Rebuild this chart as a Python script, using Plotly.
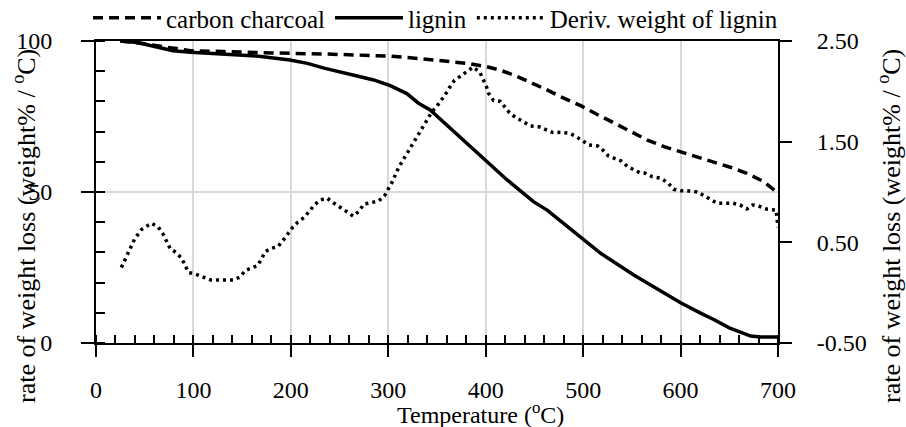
import plotly.graph_objects as go

# ---------------- data ----------------
charcoal_temp = [25, 45, 69, 97, 131, 165, 199, 234, 268, 302, 331, 354, 381, 401, 415, 429, 446, 463,
                 480, 498, 515, 532, 549, 566, 583, 600, 617, 634, 651, 668, 685, 700]
charcoal_loss = [100, 99.3, 98.1, 96.8, 96.5, 96.1, 95.9, 95.7, 95.4, 95.0, 94.2, 93.5, 92.6, 91.5, 90.3,
                 88.7, 86.3, 83.8, 81.1, 78.5, 75.6, 72.7, 69.9, 67.2, 65.0, 63.3, 61.8, 60.0, 58.2, 56.2,
                 53.5, 49.7]

lignin_temp = [25, 40, 49, 62, 79, 97, 131, 165, 199, 217, 234, 251, 268, 285, 302, 319, 331, 343, 360,
               378, 395, 422, 449, 463, 484, 501, 518, 552, 586, 600, 621, 634, 650, 662, 672, 682, 700]
lignin_loss = [100, 99.6, 99.0, 98.1, 96.8, 96.3, 95.7, 95.0, 93.7, 92.6, 91.0, 89.6, 88.4, 87.1, 85.2,
               82.6, 79.4, 77.2, 72.2, 66.7, 61.7, 54.0, 46.8, 44.0, 38.5, 34.1, 29.7, 22.5, 15.9, 13.3,
               9.8, 7.8, 5.0, 3.4, 2.3, 2.0, 2.0]

deriv_temp = [26, 33, 40, 47, 57, 64, 69, 76, 82, 88, 95, 102, 110, 118, 141, 148, 153, 160, 166, 170,
              174, 180, 187, 192, 197, 202, 207, 214, 219, 224, 230, 237, 244, 251, 258, 264, 270, 275,
              282, 290, 296, 300, 304, 311, 319, 328, 336, 340, 345, 349, 354, 358, 363, 368, 374, 381,
              387, 394, 398, 401, 403, 408, 415, 420, 425, 431, 439, 446, 455, 462, 469, 477, 486, 492,
              499, 506, 515, 521, 526, 532, 539, 546, 552, 558, 564, 571, 580, 587, 593, 600, 609, 617,
              624, 630, 637, 646, 654, 661, 668, 674, 680, 689, 698, 700]
deriv_rate = [0.25, 0.40, 0.54, 0.63, 0.69, 0.65, 0.58, 0.44, 0.40, 0.34, 0.20, 0.185, 0.16, 0.126, 0.126,
              0.156, 0.22, 0.25, 0.27, 0.34, 0.41, 0.44, 0.46, 0.52, 0.59, 0.65, 0.70, 0.75, 0.81, 0.87,
              0.92, 0.94, 0.89, 0.85, 0.80, 0.76, 0.81, 0.88, 0.89, 0.91, 0.96, 1.03, 1.10, 1.25, 1.38,
              1.52, 1.65, 1.72, 1.80, 1.84, 1.90, 1.96, 2.04, 2.11, 2.15, 2.20, 2.24, 2.19, 2.11, 2.04,
              1.98, 1.91, 1.90, 1.84, 1.78, 1.74, 1.69, 1.655, 1.648, 1.616, 1.59, 1.593, 1.583, 1.556,
              1.507, 1.467, 1.457, 1.41, 1.358, 1.335, 1.308, 1.25, 1.218, 1.192, 1.186, 1.152, 1.136,
              1.09, 1.027, 1.013, 1.01, 1.0, 0.965, 0.927, 0.89, 0.888, 0.888, 0.871, 0.831, 0.871, 0.861,
              0.828, 0.821, 0.65]

x_ticks = [0, 100, 200, 300, 400, 500, 600, 700]
y_left_ticks = [0, 50, 100]
y_right_ticks = [-0.5, 0.5, 1.5, 2.5]
y_right_labels = ["-0.50", "0.50", "1.50", "2.50"]

series_names = ["carbon charcoal", "lignin", "Deriv. weight of lignin"]
x_title = "Temperature (<sup>o</sup>C)"
y_title = "rate of weight loss (weight% / <sup>o</sup>C)"

# ---------------- figure ----------------
FONT = "Liberation Serif"
W, H = 906, 427
ML, MR, MT, MB = 96, 128, 41, 84
PW, PH = W - ML - MR, H - MT - MB

def px_x(p):
    return (p - ML) / PW

def px_y(p):
    return (H - MB - p) / PH

fig = go.Figure()
fig.add_trace(go.Scatter(x=charcoal_temp, y=charcoal_loss, name=series_names[0], mode="lines",
                         line=dict(color="black", width=3.5, dash="10px,6px")))
fig.add_trace(go.Scatter(x=lignin_temp, y=lignin_loss, name=series_names[1], mode="lines",
                         line=dict(color="black", width=3.5)))
fig.add_trace(go.Scatter(x=deriv_temp, y=deriv_rate, name=series_names[2], mode="lines", yaxis="y2",
                         line=dict(color="black", width=3.5, dash="3px,4px")))
# helper traces so the overlay tick axes get drawn
fig.add_trace(go.Scatter(x=[0], y=[0], xaxis="x3", yaxis="y", mode="markers",
                         marker=dict(size=0, opacity=0), showlegend=False, hoverinfo="skip"))
fig.add_trace(go.Scatter(x=[0], y=[0], xaxis="x", yaxis="y3", mode="markers",
                         marker=dict(size=0, opacity=0), showlegend=False, hoverinfo="skip"))

tickfont = dict(family=FONT, size=24, color="black")

fig.update_layout(
    width=W, height=H,
    margin=dict(l=ML, r=MR, t=MT, b=MB, autoexpand=False),
    paper_bgcolor="white", plot_bgcolor="white",
    font=dict(family=FONT, size=24, color="black"),
    showlegend=True,
    legend=dict(orientation="h", x=px_x(88), xanchor="left", y=px_y(18), yanchor="middle",
                font=dict(family=FONT, size=25, color="black"), itemwidth=68,
                bgcolor="rgba(0,0,0,0)", tracegroupgap=0),
    xaxis=dict(range=[0, 700], tickmode="array", tickvals=x_ticks, ticks="outside", ticklen=12,
               tickwidth=2, tickcolor="black", tickfont=tickfont, ticklabelstandoff=12,
               showline=True, linewidth=2, linecolor="black", mirror=True,
               showgrid=True, gridcolor="#d9d9d9", gridwidth=1.5, zeroline=False,
               minor=dict(dtick=20, tick0=0, ticks="inside", ticklen=8, tickwidth=1.5,
                          tickcolor="black", showgrid=False)),
    xaxis3=dict(range=[0, 700], overlaying="x", anchor="y", tickmode="array", tickvals=x_ticks,
                ticks="inside", ticklen=8, tickwidth=2, tickcolor="black", showticklabels=False,
                showgrid=False, showline=False, zeroline=False),
    yaxis=dict(range=[0, 100], tickmode="array", tickvals=y_left_ticks, ticks="outside", ticklen=13,
               tickwidth=2, tickcolor="black", tickfont=tickfont, ticklabelstandoff=24,
               showline=True, linewidth=2, linecolor="black", mirror=True,
               showgrid=True, gridcolor="#d9d9d9", gridwidth=1.5, zeroline=False,
               minor=dict(dtick=10, tick0=0, ticks="inside", ticklen=9, tickwidth=1.5,
                          tickcolor="black", showgrid=False)),
    yaxis3=dict(range=[0, 100], overlaying="y", anchor="x", side="left", tickmode="array",
                tickvals=y_left_ticks, ticks="inside", ticklen=9, tickwidth=2, tickcolor="black",
                showticklabels=False, showgrid=False, showline=False, zeroline=False),
    yaxis2=dict(range=[-0.5, 2.5], overlaying="y", anchor="x", side="right", tickmode="array",
                tickvals=y_right_ticks, ticktext=y_right_labels, ticks="outside", ticklen=12,
                tickwidth=2, tickcolor="black", tickfont=tickfont, ticklabelstandoff=20,
                showline=True, linewidth=2, linecolor="black", showgrid=False, zeroline=False),
    annotations=[
        dict(text=x_title, xref="paper", yref="paper", x=px_x(480), y=px_y(413),
             xanchor="center", yanchor="middle", showarrow=False,
             font=dict(family=FONT, size=24, color="black")),
        dict(text=y_title, xref="paper", yref="paper", x=px_x(24), y=px_y(226),
             xanchor="center", yanchor="middle", textangle=-90, showarrow=False,
             font=dict(family=FONT, size=26, color="black")),
        dict(text=y_title, xref="paper", yref="paper", x=px_x(889), y=px_y(226),
             xanchor="center", yanchor="middle", textangle=-90, showarrow=False,
             font=dict(family=FONT, size=26, color="black")),
    ],
)

fig.write_html("out.html", config={"displayModeBar": False},
               post_script="document.body.style.margin='0px';")
